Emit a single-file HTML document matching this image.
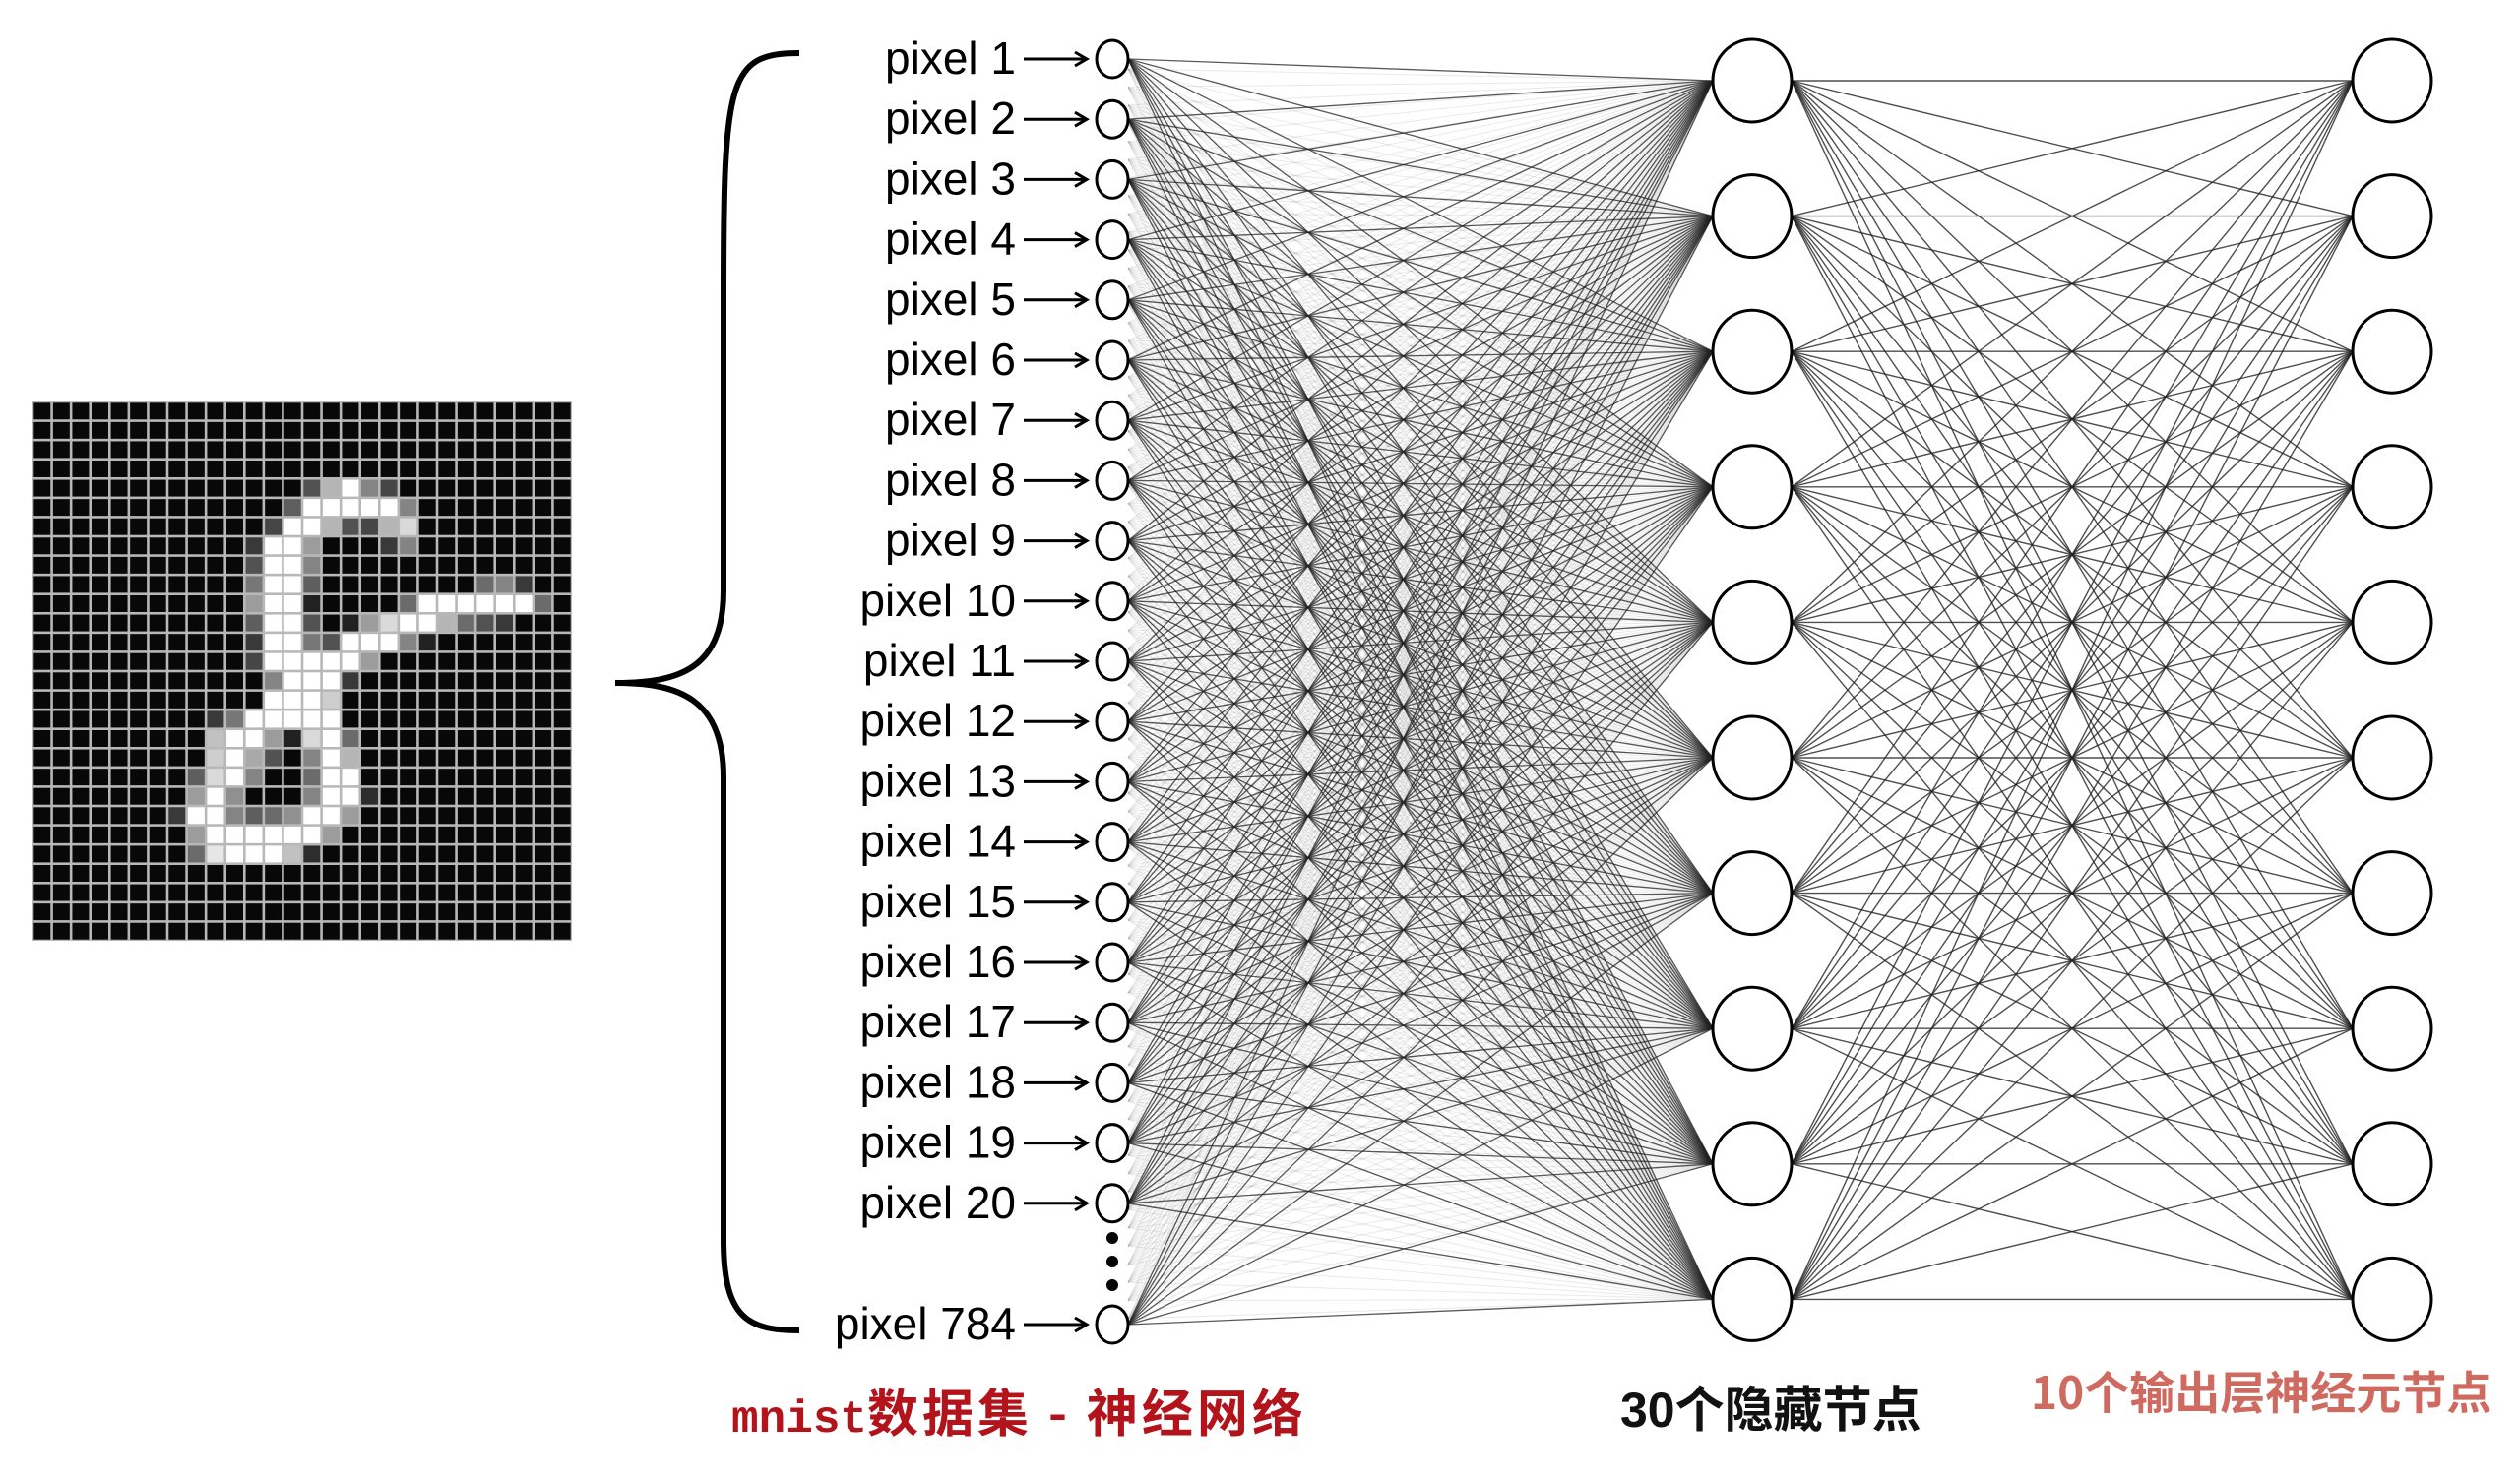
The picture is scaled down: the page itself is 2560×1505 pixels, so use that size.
<!DOCTYPE html>
<html><head><meta charset="utf-8">
<style>
html,body{margin:0;padding:0;background:#fff;}
svg{display:block;}
text{font-family:"Liberation Sans","Noto Sans CJK SC",sans-serif;}
</style></head>
<body>
<svg id="s" width="2560" height="1505" viewBox="0 0 2560 1505" xmlns="http://www.w3.org/2000/svg">
<g id="grid"></g>
<path d="M812,54 C740,54 735,80 735,300 L735,600 C735,680 690,694 625,694 C690,694 735,710 735,790 L735,1260 C735,1340 760,1352 812,1352" fill="none" stroke="#000" stroke-width="6"/>
<g id="faint"></g>
<g id="lines"></g>
<g id="nodes"></g>
<g id="labels"></g>
<circle cx="1130" cy="1258" r="6" fill="#000"/>
<circle cx="1130" cy="1282" r="6" fill="#000"/>
<circle cx="1130" cy="1306" r="6" fill="#000"/>
<text x="743" y="1455" font-size="46" font-weight="bold" fill="#b3141c" style="font-family:'Liberation Mono','Noto Sans CJK SC',monospace">mnist<tspan style="font-family:'Noto Sans CJK SC',sans-serif" font-size="52" letter-spacing="4">数据集 - 神经网络</tspan></text>
<text x="1646" y="1450" font-size="50" font-weight="bold" fill="#111" style="font-family:'Liberation Sans','Noto Sans CJK SC',sans-serif">30个隐藏节点</text>
<text x="2063" y="1432" font-size="46" font-weight="bold" fill="#c0392b" opacity="0.75" style="font-family:'Noto Sans CJK SC',sans-serif">10个输出层神经元节点</text>
</svg>
<script>
var NS="http://www.w3.org/2000/svg";
function el(p,t,a){var e=document.createElementNS(NS,t);for(var k in a)e.setAttribute(k,a[k]);p.appendChild(e);return e;}
var g=document.getElementById('grid');
var cells={
4:{14:.3,15:.7,16:1,17:.5,18:.25},
5:{13:.35,14:1,15:1,16:1,17:1,18:1,19:.5},
6:{12:.25,13:1,14:1,15:.7,16:.3,17:.25,18:.7,19:.85},
7:{11:.2,12:1,13:1,14:.6,18:.2,19:.5},
8:{11:.3,12:1,13:1,14:.5},
9:{11:.45,12:1,13:1,14:.35,23:.4,24:.5,25:.2},
10:{11:.6,12:1,13:1,14:.1,19:.4,20:1,21:1,22:1,23:1,24:1,25:1,26:.4},
11:{11:.35,12:1,13:1,14:.3,16:.1,17:.6,18:.85,19:1,20:1,21:.7,22:.4,23:.3,24:.2},
12:{11:.2,12:1,13:1,14:.45,15:.3,16:1,17:1,18:1,19:.5,20:.1},
13:{11:.25,12:1,13:1,14:1,15:1,16:1,17:.6},
14:{12:.5,13:1,14:1,15:1,16:.2},
15:{12:1,13:1,14:1,15:.8},
16:{9:.2,10:.45,11:1,12:1,13:1,14:1,15:1},
17:{9:.75,10:1,11:1,12:.6,13:.1,14:.85,15:1,16:.4},
18:{9:.8,10:1,11:.65,12:.3,14:.5,15:1,16:.7},
19:{8:.35,9:.85,10:1,11:.5,14:.4,15:1,16:1},
20:{8:.6,9:1,10:.55,14:.5,15:1,16:1,17:.15},
21:{7:.2,8:1,9:1,10:.5,11:.35,12:.4,13:.55,14:1,15:1,16:.6},
22:{8:.6,9:1,10:1,11:1,12:1,13:1,14:1,15:.6},
23:{8:.4,9:.9,10:1,11:1,12:1,13:.75,14:.15}
};
var gx=33,gy=408,cs=548/28;
el(g,'rect',{x:gx,y:gy,width:548,height:548,fill:'#b8b8b8'});
for(var r=0;r<28;r++)for(var c=0;c<28;c++){
 var v=(cells[r]&&cells[r][c])||0;var l=Math.round(8+v*247);
 el(g,'rect',{x:(gx+c*cs+1.3).toFixed(2),y:(gy+r*cs+1.3).toFixed(2),width:(cs-2.6).toFixed(2),height:(cs-2.6).toFixed(2),fill:'rgb('+l+','+l+','+l+')'});
}
var inY=[];for(var i=0;i<20;i++)inY.push(60+i*61.2);inY.push(1346);
var hY=[];for(var i=0;i<10;i++)hY.push(82+i*137.6);
var ix=1130,hx=1780,ox=2430;
var L=document.getElementById('lines'),F=document.getElementById('faint');
for(var k=0;k<70;k++){var y=70+k*(1270/69);
 for(var j=0;j<10;j++)el(F,'line',{x1:ix+16,y1:y,x2:hx-40,y2:hY[j],stroke:'#888','stroke-width':1,opacity:.18});}
inY.forEach(function(y){hY.forEach(function(h){el(L,'line',{x1:ix+16,y1:y,x2:hx-40,y2:h,stroke:'#222','stroke-width':1.3,opacity:.75});});});
hY.forEach(function(y){hY.forEach(function(h){el(L,'line',{x1:hx+40,y1:y,x2:ox-40,y2:h,stroke:'#222','stroke-width':1.4,opacity:.8});});});
var N=document.getElementById('nodes'),T=document.getElementById('labels');
inY.forEach(function(y,i){
 el(N,'ellipse',{cx:ix,cy:y,rx:16,ry:19,fill:'#fff',stroke:'#000','stroke-width':3});
 var t=el(T,'text',{x:1032,y:y+15,'font-size':46,'text-anchor':'end',fill:'#000'});
 t.textContent='pixel '+(i<20?(i+1):784);
 el(T,'line',{x1:1040,y1:y,x2:1102,y2:y,stroke:'#000','stroke-width':3});
 el(T,'path',{d:'M1092,'+(y-7)+' L1104,'+y+' L1092,'+(y+7),fill:'none',stroke:'#000','stroke-width':3});
});
hY.forEach(function(y){
 el(N,'ellipse',{cx:hx,cy:y,rx:40,ry:42,fill:'#fff',stroke:'#000','stroke-width':3});
 el(N,'ellipse',{cx:ox,cy:y,rx:40,ry:42,fill:'#fff',stroke:'#000','stroke-width':3});
});
</script>
</body></html>
